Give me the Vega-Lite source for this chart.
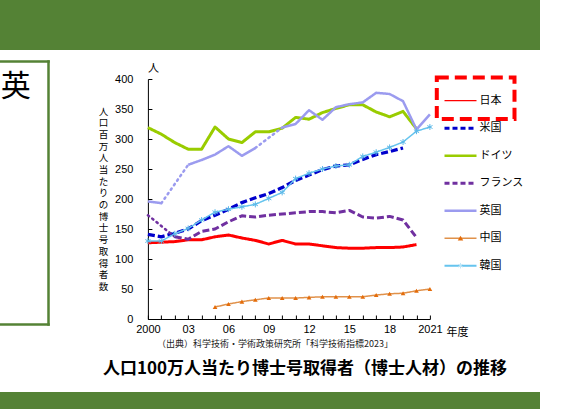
{
  "$schema": "https://vega.github.io/schema/vega-lite/v6.json",
  "background": "white",
  "padding": 0,
  "spacing": 0,
  "config": {
    "view": {"stroke": null},
    "font": "Noto Sans CJK JP",
    "title": {"color": "#000", "fontWeight": "normal"}
  },
  "datasets": {
    "main": [
      {"c":"日本","y":2000,"v":127,"s":1},{"c":"日本","y":2001,"v":128,"s":1},{"c":"日本","y":2002,"v":129,"s":1},{"c":"日本","y":2003,"v":132,"s":1},{"c":"日本","y":2004,"v":132,"s":1},{"c":"日本","y":2005,"v":137,"s":1},{"c":"日本","y":2006,"v":140,"s":1},{"c":"日本","y":2007,"v":135,"s":1},{"c":"日本","y":2008,"v":131,"s":1},{"c":"日本","y":2009,"v":125,"s":1},{"c":"日本","y":2010,"v":131,"s":1},{"c":"日本","y":2011,"v":125,"s":1},{"c":"日本","y":2012,"v":125,"s":1},{"c":"日本","y":2013,"v":122,"s":1},{"c":"日本","y":2014,"v":119,"s":1},{"c":"日本","y":2015,"v":118,"s":1},{"c":"日本","y":2016,"v":118,"s":1},{"c":"日本","y":2017,"v":119,"s":1},{"c":"日本","y":2018,"v":119,"s":1},{"c":"日本","y":2019,"v":120,"s":1},{"c":"日本","y":2020,"v":124,"s":1},
      {"c":"米国","y":2000,"v":141,"s":1},{"c":"米国","y":2001,"v":137,"s":1},{"c":"米国","y":2002,"v":143,"s":1},{"c":"米国","y":2003,"v":150,"s":1},{"c":"米国","y":2004,"v":164,"s":1},{"c":"米国","y":2005,"v":173,"s":1},{"c":"米国","y":2006,"v":183,"s":1},{"c":"米国","y":2007,"v":194,"s":1},{"c":"米国","y":2008,"v":202,"s":1},{"c":"米国","y":2009,"v":209,"s":1},{"c":"米国","y":2010,"v":219,"s":1},{"c":"米国","y":2011,"v":231,"s":1},{"c":"米国","y":2012,"v":240,"s":1},{"c":"米国","y":2013,"v":249,"s":1},{"c":"米国","y":2014,"v":255,"s":1},{"c":"米国","y":2015,"v":257,"s":1},{"c":"米国","y":2016,"v":266,"s":1},{"c":"米国","y":2017,"v":274,"s":1},{"c":"米国","y":2018,"v":279,"s":1},{"c":"米国","y":2019,"v":285,"s":1},
      {"c":"ドイツ","y":2000,"v":319,"s":1},{"c":"ドイツ","y":2001,"v":308,"s":1},{"c":"ドイツ","y":2002,"v":294,"s":1},{"c":"ドイツ","y":2003,"v":283,"s":1},{"c":"ドイツ","y":2004,"v":283,"s":1},{"c":"ドイツ","y":2005,"v":320,"s":1},{"c":"ドイツ","y":2006,"v":300,"s":1},{"c":"ドイツ","y":2007,"v":294,"s":1},{"c":"ドイツ","y":2008,"v":312,"s":1},{"c":"ドイツ","y":2009,"v":312,"s":1},{"c":"ドイツ","y":2010,"v":318,"s":1},{"c":"ドイツ","y":2011,"v":336,"s":1},{"c":"ドイツ","y":2012,"v":333,"s":1},{"c":"ドイツ","y":2013,"v":344,"s":1},{"c":"ドイツ","y":2014,"v":351,"s":1},{"c":"ドイツ","y":2015,"v":357,"s":1},{"c":"ドイツ","y":2016,"v":357,"s":1},{"c":"ドイツ","y":2017,"v":345,"s":1},{"c":"ドイツ","y":2018,"v":337,"s":1},{"c":"ドイツ","y":2019,"v":346,"s":1},{"c":"ドイツ","y":2020,"v":317,"s":1},
      {"c":"フランス","y":2000,"v":173,"s":1},{"c":"フランス","y":2002,"v":137,"s":2},{"c":"フランス","y":2003,"v":133,"s":2},{"c":"フランス","y":2004,"v":146,"s":2},{"c":"フランス","y":2005,"v":150,"s":2},{"c":"フランス","y":2006,"v":162,"s":2},{"c":"フランス","y":2007,"v":172,"s":2},{"c":"フランス","y":2008,"v":170,"s":2},{"c":"フランス","y":2009,"v":173,"s":2},{"c":"フランス","y":2010,"v":175,"s":2},{"c":"フランス","y":2011,"v":177,"s":2},{"c":"フランス","y":2012,"v":179,"s":2},{"c":"フランス","y":2013,"v":179,"s":2},{"c":"フランス","y":2014,"v":177,"s":2},{"c":"フランス","y":2015,"v":181,"s":2},{"c":"フランス","y":2016,"v":170,"s":2},{"c":"フランス","y":2017,"v":168,"s":2},{"c":"フランス","y":2018,"v":171,"s":2},{"c":"フランス","y":2019,"v":165,"s":2},{"c":"フランス","y":2020,"v":136,"s":2},
      {"c":"英国","y":2000,"v":196,"s":1},{"c":"英国","y":2001,"v":193,"s":1},{"c":"英国","y":2003,"v":257,"s":2},{"c":"英国","y":2004,"v":265,"s":2},{"c":"英国","y":2005,"v":274,"s":2},{"c":"英国","y":2006,"v":288,"s":2},{"c":"英国","y":2007,"v":272,"s":2},{"c":"英国","y":2008,"v":285,"s":2},{"c":"英国","y":2010,"v":319,"s":3},{"c":"英国","y":2011,"v":325,"s":3},{"c":"英国","y":2012,"v":348,"s":3},{"c":"英国","y":2013,"v":332,"s":3},{"c":"英国","y":2014,"v":353,"s":3},{"c":"英国","y":2015,"v":358,"s":3},{"c":"英国","y":2016,"v":361,"s":3},{"c":"英国","y":2017,"v":377,"s":3},{"c":"英国","y":2018,"v":375,"s":3},{"c":"英国","y":2019,"v":363,"s":3},{"c":"英国","y":2020,"v":316,"s":3},{"c":"英国","y":2021,"v":341,"s":3},
      {"c":"中国","y":2005,"v":20,"s":1},{"c":"中国","y":2006,"v":25,"s":1},{"c":"中国","y":2007,"v":29,"s":1},{"c":"中国","y":2008,"v":32,"s":1},{"c":"中国","y":2009,"v":35,"s":1},{"c":"中国","y":2010,"v":35,"s":1},{"c":"中国","y":2011,"v":35,"s":1},{"c":"中国","y":2012,"v":36,"s":1},{"c":"中国","y":2013,"v":37,"s":1},{"c":"中国","y":2014,"v":37,"s":1},{"c":"中国","y":2015,"v":37,"s":1},{"c":"中国","y":2016,"v":37,"s":1},{"c":"中国","y":2017,"v":40,"s":1},{"c":"中国","y":2018,"v":42,"s":1},{"c":"中国","y":2019,"v":43,"s":1},{"c":"中国","y":2020,"v":47,"s":1},{"c":"中国","y":2021,"v":50,"s":1},
      {"c":"韓国","y":2000,"v":130,"s":1},{"c":"韓国","y":2001,"v":130,"s":1},{"c":"韓国","y":2002,"v":142,"s":1},{"c":"韓国","y":2003,"v":151,"s":1},{"c":"韓国","y":2004,"v":165,"s":1},{"c":"韓国","y":2005,"v":178,"s":1},{"c":"韓国","y":2006,"v":183,"s":1},{"c":"韓国","y":2007,"v":187,"s":1},{"c":"韓国","y":2008,"v":191,"s":1},{"c":"韓国","y":2009,"v":201,"s":1},{"c":"韓国","y":2010,"v":211,"s":1},{"c":"韓国","y":2011,"v":234,"s":1},{"c":"韓国","y":2012,"v":243,"s":1},{"c":"韓国","y":2013,"v":250,"s":1},{"c":"韓国","y":2014,"v":255,"s":1},{"c":"韓国","y":2015,"v":257,"s":1},{"c":"韓国","y":2016,"v":271,"s":1},{"c":"韓国","y":2017,"v":278,"s":1},{"c":"韓国","y":2018,"v":286,"s":1},{"c":"韓国","y":2019,"v":295,"s":1},{"c":"韓国","y":2020,"v":313,"s":1},{"c":"韓国","y":2021,"v":320,"s":1}
    ],
    "gaps": [
      {"c":"フランス","y":2000,"v":173,"s":1},{"c":"フランス","y":2002,"v":137,"s":1},
      {"c":"英国","y":2001,"v":193,"s":1},{"c":"英国","y":2003,"v":257,"s":1},
      {"c":"英国","y":2008,"v":285,"s":2},{"c":"英国","y":2010,"v":319,"s":2}
    ],
    "legend": [{"c":"日本"},{"c":"米国"},{"c":"ドイツ"},{"c":"フランス"},{"c":"英国"},{"c":"中国"},{"c":"韓国"}]
  },
  "vconcat": [
    {"width": 540, "height": 50, "view": {"fill": "#548235", "stroke": null}, "data": {"values": []}, "mark": "text"},
    {
      "spacing": 47.9,
      "hconcat": [
        {
          "spacing": 0,
          "vconcat": [
            {"width": 49.2, "height": 10.75, "data": {"values": []}, "mark": "text"},
            {
              "width": 48,
              "height": 263,
              "data": {"values": [{}]},
              "layer": [
                {
                  "mark": {"type": "text", "text": "英", "fontSize": 30, "align": "center", "baseline": "middle", "color": "#000"},
                  "encoding": {
                    "x": {"datum": 15.75, "type": "quantitative", "scale": {"domain": [0, 48], "nice": false, "zero": false}, "axis": {"orient": "top", "domainColor": "#548235", "domainWidth": 2.5, "domainCap": "square", "ticks": false, "labels": false, "grid": false, "title": null}},
                    "y": {"datum": 25.5, "type": "quantitative", "scale": {"domain": [0, 263], "nice": false, "reverse": true}, "axis": {"orient": "right", "domainColor": "#548235", "domainWidth": 2.5, "domainCap": "square", "ticks": false, "labels": false, "grid": false, "title": null}}
                  }
                },
                {
                  "mark": {"type": "text", "text": ")", "fontSize": 30, "align": "right", "baseline": "middle", "clip": true, "color": "#000"},
                  "encoding": {
                    "x": {"datum": 2.25, "type": "quantitative", "axis": {"orient": "bottom", "domainColor": "#548235", "domainWidth": 2.5, "domainCap": "square", "ticks": false, "labels": false, "grid": false, "title": null}},
                    "y": {"datum": 108, "type": "quantitative"}
                  }
                }
              ],
              "resolve": {"axis": {"x": "independent"}}
            },
            {"width": 49.2, "height": 12.25, "data": {"values": []}, "mark": "text"}
          ]
        },
        {
          "spacing": 0,
          "vconcat": [
            {"width": 1, "height": 11.3, "data": {"values": []}, "mark": "text"},
            {
              "width": 282,
              "height": 240,
              "title": {"text": "人", "orient": "top", "anchor": "start", "frame": "group", "baseline": "bottom", "offset": -11.7, "fontSize": 11},
              "layer": [
                {
                  "encoding": {
                    "x": {
                      "field": "y", "type": "quantitative",
                      "scale": {"domain": [2000, 2021], "nice": false, "zero": false},
                      "axis": {
                        "values": [2000,2001,2002,2003,2004,2005,2006,2007,2008,2009,2010,2011,2012,2013,2014,2015,2016,2017,2018,2019,2020,2021],
                        "labelExpr": "(datum.value - 2000) % 3 == 0 ? ((datum.value == 2000 || datum.value == 2021) ? datum.value + '' : substring(datum.value + '', 2, 4)) : ''",
                        "labelOverlap": false, "labelFlush": false, "grid": false,
                        "tickSize": -4, "tickColor": "#000", "domainColor": "#000",
                        "labelFont": "Liberation Sans", "labelFontSize": 11, "labelColor": "#000", "labelPadding": 8,
                        "title": "年度", "titleX": 298, "titleY": 13.5, "titleAlign": "left", "titleBaseline": "middle",
                        "titleFont": "Noto Sans CJK JP", "titleFontSize": 11, "titleFontWeight": "normal", "titleColor": "#000"
                      }
                    },
                    "y": {
                      "field": "v", "type": "quantitative",
                      "scale": {"domain": [0, 400], "nice": false},
                      "axis": {
                        "values": [0,50,100,150,200,250,300,350,400],
                        "grid": false, "tickSize": -4, "tickColor": "#000", "domainColor": "#000",
                        "labelFont": "Liberation Sans", "labelFontSize": 11, "labelColor": "#000", "labelPadding": 19,
                        "title": ["人","口","百","万","人","当","た","り","の","博","士","号","取","得","者","数"],
                        "titleAngle": 0, "titleX": -45, "titleY": 27, "titleAlign": "center", "titleBaseline": "top",
                        "titleFont": "Noto Sans CJK JP", "titleFontSize": 9.5, "titleLineHeight": 11.7, "titleFontWeight": "normal", "titleColor": "#000"
                      }
                    }
                  },
                  "layer": [
                    {
                      "data": {"name": "main"},
                      "mark": {"type": "line", "strokeJoin": "round"},
                      "encoding": {
                        "color": {"field": "c", "type": "nominal", "scale": {"domain": ["日本","米国","ドイツ","フランス","英国","中国","韓国"], "range": ["#FF0000","#0000CC","#99CC00","#7030A0","#9B9BEF","#E0914A","#66C4EE"]}, "legend": null},
                        "strokeWidth": {"condition": [{"test": "datum.c == '米国'", "value": 3.3}, {"test": "datum.c == '英国'", "value": 2.5}, {"test": "datum.c == '中国' || datum.c == '韓国'", "value": 1.5}], "value": 3},
                        "strokeDash": {"condition": {"test": "datum.c == '米国' || datum.c == 'フランス'", "value": [7, 3]}, "value": [1, 0]},
                        "detail": {"field": "s"}
                      }
                    },
                    {
                      "data": {"name": "gaps"},
                      "mark": {"type": "line", "strokeDash": [1.5, 4], "strokeCap": "round", "strokeWidth": 2.5},
                      "encoding": {
                        "color": {"field": "c", "type": "nominal", "legend": null},
                        "detail": {"field": "s"}
                      }
                    },
                    {
                      "data": {"name": "main"},
                      "transform": [{"filter": "datum.c == '中国'"}],
                      "mark": {"type": "point", "shape": "triangle-up", "filled": true, "size": 22, "opacity": 1},
                      "encoding": {"color": {"value": "#E46C0A"}}
                    },
                    {
                      "data": {"name": "main"},
                      "transform": [{"filter": "datum.c == '韓国'"}],
                      "mark": {"type": "point", "shape": "M0,-1L0,1M-0.87,-0.5L0.87,0.5M-0.87,0.5L0.87,-0.5", "filled": false, "size": 36, "strokeWidth": 1, "opacity": 1},
                      "encoding": {"color": {"value": "#5BB8E8"}}
                    }
                  ]
                },
                {
                  "data": {"name": "legend"},
                  "encoding": {
                    "y": {"field": "c", "type": "nominal", "sort": null, "scale": {"domain": ["日本","米国","ドイツ","フランス","英国","中国","韓国"], "paddingInner": 0, "paddingOuter": 0.8636, "align": 0.1674}, "axis": null}
                  },
                  "layer": [
                    {
                      "mark": {"type": "rule"},
                      "encoding": {
                        "x": {"datum": 296.6, "type": "quantitative", "scale": {"domain": [0, 282], "nice": false, "zero": false}, "axis": null},
                        "x2": {"datum": 328.6},
                        "color": {"field": "c", "type": "nominal", "legend": null},
                        "strokeWidth": {"condition": [{"test": "datum.c == '日本'", "value": 1.3}, {"test": "datum.c == '米国' || datum.c == 'フランス'", "value": 3}, {"test": "datum.c == '中国'", "value": 1.5}, {"test": "datum.c == '韓国'", "value": 2}], "value": 2.5},
                        "strokeDash": {"condition": {"test": "datum.c == '米国' || datum.c == 'フランス'", "value": [5, 3]}, "value": [1, 0]}
                      }
                    },
                    {
                      "transform": [{"filter": "datum.c == '中国'"}],
                      "mark": {"type": "point", "shape": "triangle-up", "filled": true, "size": 30, "opacity": 1, "color": "#E46C0A"},
                      "encoding": {"x": {"datum": 312.6, "type": "quantitative", "axis": null}}
                    },
                    {
                      "transform": [{"filter": "datum.c == '韓国'"}],
                      "mark": {"type": "point", "shape": "M0,-1L0,1M-0.87,-0.5L0.87,0.5M-0.87,0.5L0.87,-0.5", "filled": false, "size": 30, "strokeWidth": 1, "opacity": 1, "color": "#BFE6F8"},
                      "encoding": {"x": {"datum": 312.6, "type": "quantitative", "axis": null}}
                    },
                    {
                      "mark": {"type": "text", "align": "left", "baseline": "middle", "fontSize": 11, "color": "#000"},
                      "encoding": {"x": {"datum": 331.6, "type": "quantitative", "axis": null}, "text": {"field": "c"}}
                    },
                    {
                      "transform": [{"filter": "datum.c == '日本'"}],
                      "mark": {"type": "rect", "fill": "transparent", "stroke": "#FF0000", "strokeWidth": 4, "strokeDash": [12, 6], "height": 41.6, "yOffset": -2.5},
                      "encoding": {"x": {"datum": 288.9, "type": "quantitative", "axis": null}, "x2": {"datum": 366.6}}
                    }
                  ]
                }
              ],
              "resolve": {"scale": {"x": "independent", "y": "independent"}}
            }
          ]
        }
      ]
    },
    {
      "width": 540,
      "height": 11.5,
      "data": {"values": [{"t": "（出典）科学技術・学術政策研究所「科学技術指標2023」"}]},
      "mark": {"type": "text", "fontSize": 9, "dx": 5, "baseline": "middle", "color": "#222"},
      "encoding": {"text": {"field": "t"}}
    },
    {
      "width": 540,
      "height": 41.7,
      "data": {"values": [{"t": "人口100万人当たり博士号取得者（博士人材）の推移"}]},
      "mark": {"type": "text", "fontSize": 17, "fontWeight": "bold", "dx": 35, "dy": -2.35, "baseline": "middle", "color": "#000"},
      "encoding": {"text": {"field": "t"}}
    },
    {"width": 540, "height": 17.3, "view": {"fill": "#548235", "stroke": null}, "data": {"values": []}, "mark": "text"}
  ]
}
